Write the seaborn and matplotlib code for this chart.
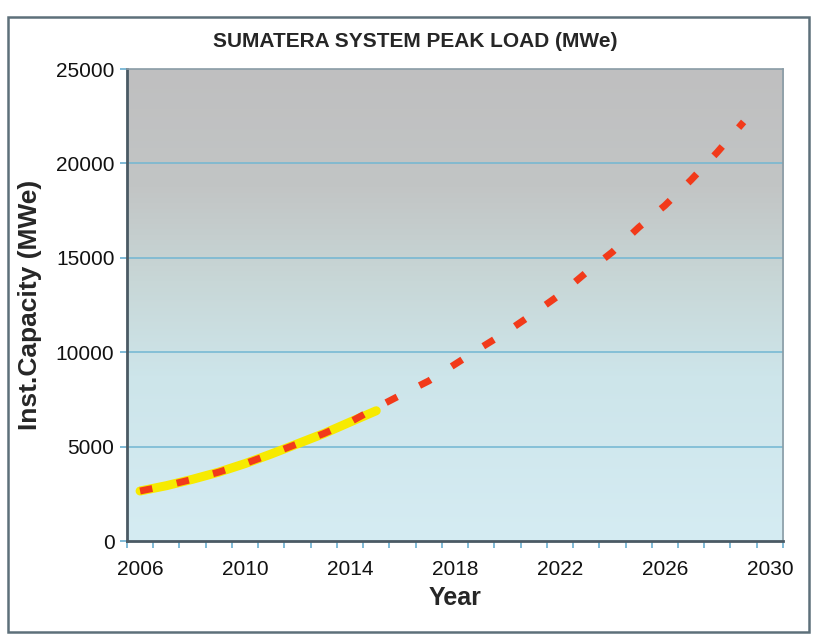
import numpy as np
import matplotlib
matplotlib.use("Agg")
import matplotlib.pyplot as plt
from matplotlib.colors import LinearSegmentedColormap
from matplotlib.patches import Rectangle
import seaborn as sns

# Data (MWe)
years_hist = [2006, 2007, 2008, 2009, 2010, 2011, 2012, 2013, 2014, 2015]
load_hist = [2650, 2930, 3270, 3650, 4100, 4610, 5150, 5690, 6300, 6900]

years_proj = list(range(2006, 2030))
load_proj = [2650, 2930, 3270, 3650, 4100, 4610, 5150, 5690, 6300, 7060,
             7780, 8480, 9360, 10250, 11110, 12060, 13050, 14220, 15310,
             16610, 17770, 19130, 20600, 22200]

x_labels = [2006, 2010, 2014, 2018, 2022, 2026, 2030]
y_ticks = [0, 5000, 10000, 15000, 20000, 25000]

sns.set_style("white")
plt.rcParams["font.family"] = ["Liberation Sans", "DejaVu Sans"]

fig = plt.figure(figsize=(8.19, 6.43), dpi=100)
ax = fig.add_axes([0.155, 0.1586, 0.801, 0.734])

# gradient background: light blue at bottom to grey at top
cmap = LinearSegmentedColormap.from_list(
    "bg", [(0.0, "#d5ecf3"), (0.35, "#cde5ea"), (0.55, "#c8d7d7"),
           (0.75, "#c2c5c5"), (1.0, "#bfbfc0")])
grad = np.linspace(0, 1, 256).reshape(-1, 1)
ax.imshow(grad, cmap=cmap, aspect="auto", origin="lower",
          extent=[0, 1, 0, 1], transform=ax.transAxes, zorder=0)

for v in y_ticks[1:-1]:
    ax.axhline(v, color="#72b6d2", lw=1.1, zorder=1)

sns.lineplot(x=years_hist, y=load_hist, ax=ax, color="#f7ea00", lw=6.5,
             solid_capstyle="round", zorder=3)
sns.lineplot(x=years_proj, y=load_proj, ax=ax, color="#f23a1a", lw=5,
             linestyle=(0, (1.8, 3.6)), zorder=4)

ax.set_xlim(2005.5, 2030.5)
ax.set_ylim(0, 25000)
ax.set_xticks(x_labels)
ax.set_xticks(np.arange(2005.5, 2031, 1), minor=True)
ax.set_yticks(y_ticks)
ax.tick_params(axis="x", which="major", length=0, pad=14, labelsize=15,
               labelcolor="#111111")
ax.tick_params(axis="x", which="minor", length=5, width=1.2,
               color="#6aaed0", direction="out", bottom=True)
ax.tick_params(axis="y", length=5, width=1.2, color="#6aaed0",
               labelsize=15, labelcolor="#111111", pad=4, left=True)

for side in ["left", "bottom"]:
    ax.spines[side].set_color("#4a5a64")
    ax.spines[side].set_linewidth(2)
for side in ["top", "right"]:
    ax.spines[side].set_color("#8a9ca6")
    ax.spines[side].set_linewidth(1.2)

ax.set_xlabel("Year", fontsize=18, fontweight="bold", labelpad=5)
ax.set_ylabel("Inst.Capacity (MWe)", fontsize=19, fontweight="bold",
              labelpad=10)
ax.set_title("SUMATERA SYSTEM PEAK LOAD (MWe)", fontsize=15,
             fontweight="bold", pad=16, x=0.44)

# outer chart frame
fig.patches.append(Rectangle((0.010, 0.017), 0.978, 0.957,
                             transform=fig.transFigure, fill=False,
                             edgecolor="#5d707a", lw=1.8))

fig.savefig("out.png", dpi=100)
